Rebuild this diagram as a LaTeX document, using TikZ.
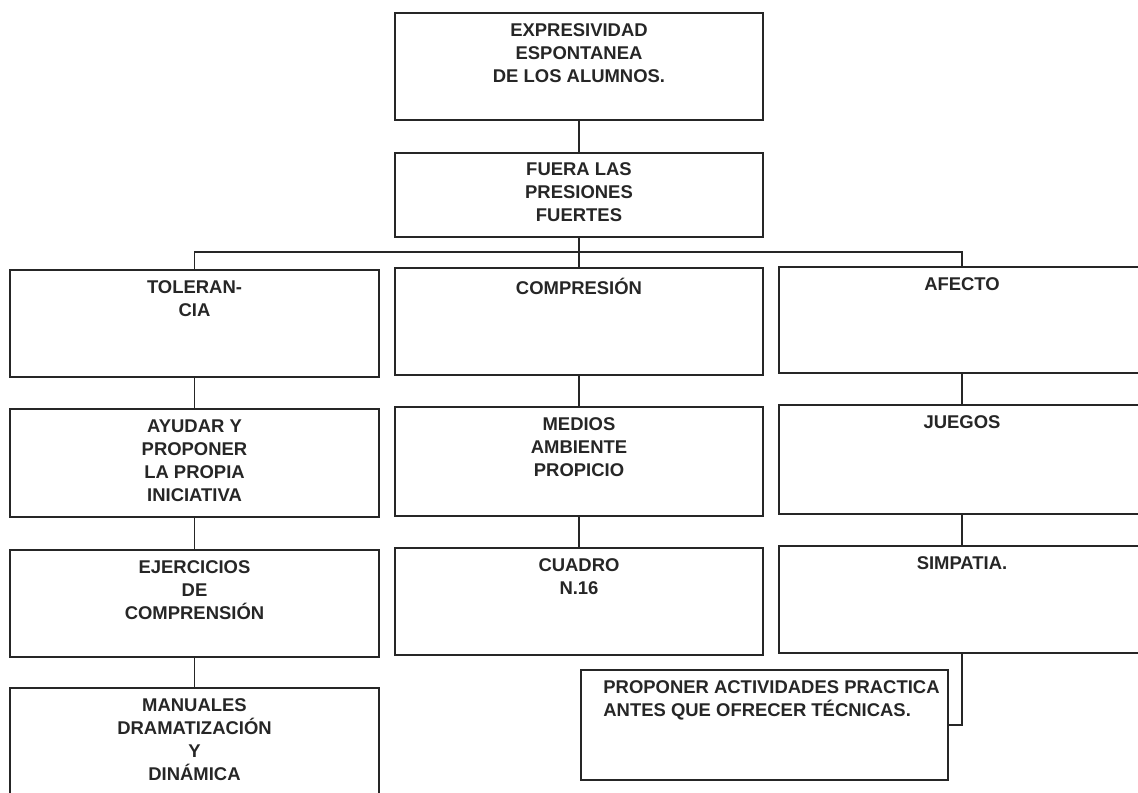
\documentclass[tikz,border=0pt]{standalone}
\usepackage{fontspec}
\setmainfont{Liberation Sans}
\usepackage{tikz}
\usetikzlibrary{positioning,calc}

\tikzset{
    box/.style={draw=black!85, line width=1.1pt, minimum width=7.36cm, minimum height=2.14cm, inner sep=0pt},
    boxtext/.style={anchor=north, yshift=-0.22cm, inner sep=0pt, align=center, text=black!85,
        font=\fontsize{10.5}{13.2}\selectfont\bfseries},
    link/.style={draw=black!85, line width=1.1pt}
}

\begin{document}
\begin{tikzpicture}[x=0.02cm, y=-0.02cm]
    \useasboundingbox (0,0) rectangle (1138,793);
    \clip (0,0) rectangle (1138,793);

    % top of the chart
    \node [box, minimum height=2.14cm, label={[boxtext]north:EXPRESIVIDAD\\ESPONTANEA\\DE LOS ALUMNOS.}] (expr) at (579,66.5) {};
    \node [box, minimum height=1.68cm, label={[boxtext, yshift=0.02cm]north:FUERA LAS\\PRESIONES\\FUERTES}] (fuera) at (579,195) {};

    % three branches
    \node [box, minimum width=7.38cm, label={[boxtext]north:TOLERAN-\\CIA}] (tol) at (194.5,323.5) {};
    \node [box, label={[boxtext]north:COMPRESIÓN}] (comp) at (579,321.5) {};
    \node [box, minimum width=7.32cm, minimum height=2.12cm, label={[boxtext]north:AFECTO}] (afecto) at (962,320) {};

    \node [box, minimum width=7.38cm, minimum height=2.16cm, label={[boxtext]north:AYUDAR Y\\PROPONER\\LA PROPIA\\INICIATIVA}] (ayudar) at (194.5,463) {};
    \node [box, minimum height=2.18cm, label={[boxtext]north:MEDIOS\\AMBIENTE\\PROPICIO}] (medios) at (579,461.5) {};
    \node [box, minimum width=7.32cm, minimum height=2.18cm, label={[boxtext]north:JUEGOS}] (juegos) at (962,459.5) {};

    \node [box, minimum width=7.38cm, label={[boxtext]north:EJERCICIOS\\DE\\COMPRENSIÓN}] (ejer) at (194.5,603.5) {};
    \node [box, label={[boxtext]north:CUADRO\\N.16}] (cuadro) at (579,601.5) {};
    \node [box, minimum width=7.32cm, label={[boxtext]north:SIMPATIA.}] (simpatia) at (962,599.5) {};

    \node [box, minimum width=7.38cm, minimum height=2.84cm, label={[boxtext]north:MANUALES\\DRAMATIZACIÓN\\Y\\DINÁMICA}] (manual) at (194.5,759) {};
    \node [box, minimum width=7.34cm, minimum height=2.2cm, label={[boxtext, align=left, xshift=0.14cm]north:PROPONER ACTIVIDADES PRACTICA\\ANTES QUE OFRECER TÉCNICAS.}] (proponer) at (764.5,725) {};

    % connectors
    \coordinate (bl) at (tol.north |- 0,252);
    \coordinate (br) at (afecto.north |- 0,252);
    \draw [link] (expr.south) -- (fuera.north);
    \draw [link] (fuera.south) -- (comp.north);
    \draw [link] (tol.north) -- (bl) -- (br) -- (afecto.north);
    \draw [link] (tol.south) -- (ayudar.north);
    \draw [link] (ayudar.south) -- (ejer.north);
    \draw [link] (ejer.south) -- (manual.north);
    \draw [link] (comp.south) -- (medios.north);
    \draw [link] (medios.south) -- (cuadro.north);
    \draw [link] (afecto.south) -- (juegos.north);
    \draw [link] (juegos.south) -- (simpatia.north);
    \draw [link] (simpatia.south) |- (proponer.east);
\end{tikzpicture}
\end{document}
